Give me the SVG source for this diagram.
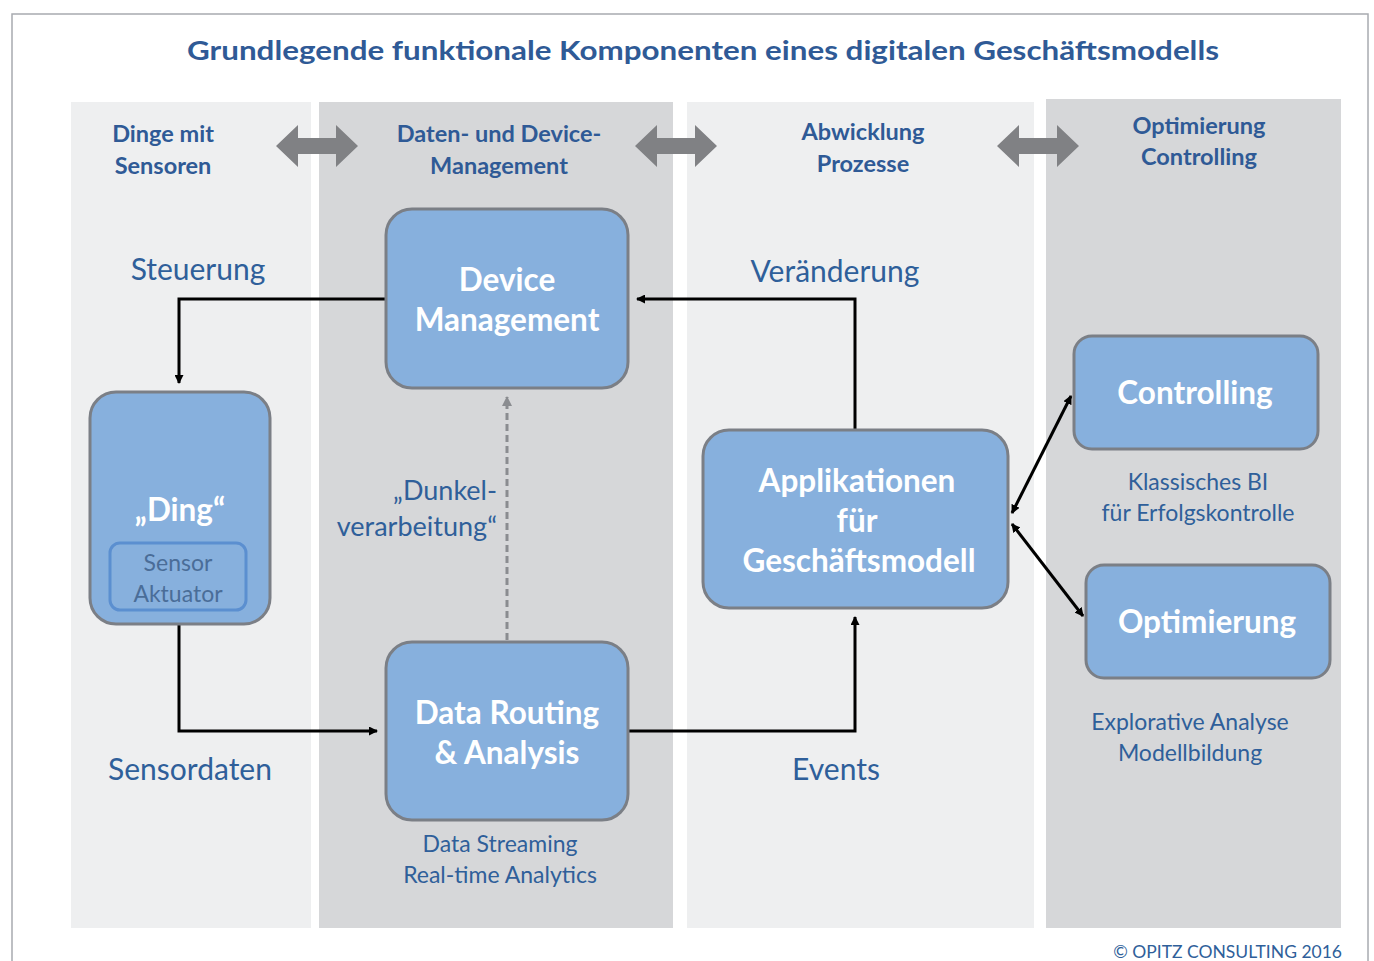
<svg xmlns="http://www.w3.org/2000/svg" width="1374" height="961" viewBox="0 0 1374 961">
<defs>
<style>
.hdr{font-family:Lato,"Open Sans",sans-serif;font-weight:bold;font-size:23.5px;fill:#2f5a96;text-anchor:middle}
.lbl{font-family:Lato,"Open Sans",sans-serif;font-size:30px;fill:#2f5f9a;text-anchor:middle}
.sub{font-family:Lato,"Open Sans",sans-serif;font-size:23px;fill:#2f5f9a;text-anchor:middle}
.dk{font-family:Lato,"Open Sans",sans-serif;font-size:27px;fill:#2f5f9a;text-anchor:end}
.nt{font-family:Lato,"Open Sans",sans-serif;font-weight:bold;font-size:31.5px;fill:#ffffff;text-anchor:middle}
.node{fill:#87b0dd;stroke:#7b7f86;stroke-width:3}
.con{fill:none;stroke:#000;stroke-width:3}
</style>
<marker id="ah" markerWidth="9" markerHeight="9" refX="8" refY="4.5" orient="auto-start-reverse" markerUnits="userSpaceOnUse">
<path d="M0,0 L9,4.5 L0,9 z" fill="#000"/>
</marker>
<marker id="ahg" markerWidth="10" markerHeight="10" refX="9" refY="5" orient="auto" markerUnits="userSpaceOnUse">
<path d="M0,0 L10,5 L0,10 z" fill="#8a8c90"/>
</marker>
<path id="darr" d="M0,0 L22,-21 L22,-8 L60,-8 L60,-21 L82,0 L60,21 L60,8 L22,8 L22,21 z" fill="#808184"/>
</defs>
<rect width="1374" height="961" fill="#ffffff"/>
<rect x="12" y="14" width="1356" height="960" fill="none" stroke="#a8abb0" stroke-width="1.5"/>
<text x="703" y="60" font-family="Lato,'Open Sans',sans-serif" font-weight="bold" font-size="27" fill="#2f5a96" text-anchor="middle" textLength="1032" lengthAdjust="spacingAndGlyphs">Grundlegende funktionale Komponenten eines digitalen Geschäftsmodells</text>

<g id="columns">
<rect x="71" y="102" width="240" height="826" fill="#eeeff0"/>
<rect x="319" y="102" width="354" height="826" fill="#d6d7d9"/>
<rect x="687" y="102" width="347" height="826" fill="#eeeff0"/>
<rect x="1046" y="99" width="295" height="829" fill="#d6d7d9"/>
</g>

<g id="headers">
<text class="hdr" x="163" y="142">Dinge mit</text>
<text class="hdr" x="163" y="174">Sensoren</text>
<text class="hdr" x="499" y="142">Daten- und Device-</text>
<text class="hdr" x="499" y="174">Management</text>
<text class="hdr" x="863" y="140">Abwicklung</text>
<text class="hdr" x="863" y="172">Prozesse</text>
<text class="hdr" x="1199" y="134">Optimierung</text>
<text class="hdr" x="1199" y="165">Controlling</text>
<use href="#darr" x="276" y="146"/>
<use href="#darr" x="635" y="146"/>
<use href="#darr" x="997" y="146"/>
</g>

<g id="connectors">
<path class="con" d="M386,299 H179 V383" marker-end="url(#ah)"/>
<path class="con" d="M179,624 V731 H377" marker-end="url(#ah)"/>
<path class="con" d="M628,731 H855 V617" marker-end="url(#ah)"/>
<path class="con" d="M855,430 V299 H637" marker-end="url(#ah)"/>
<path d="M507,640 V397" fill="none" stroke="#8a8c90" stroke-width="3" stroke-dasharray="7,4" marker-end="url(#ahg)"/>
<path class="con" d="M1012,513 L1071,396" marker-start="url(#ah)" marker-end="url(#ah)"/>
<path class="con" d="M1012,524 L1083,616" marker-start="url(#ah)" marker-end="url(#ah)"/>
</g>

<g id="labels">
<text class="lbl" x="198" y="280">Steuerung</text>
<text class="lbl" x="835" y="282">Veränderung</text>
<text class="lbl" x="190" y="780">Sensordaten</text>
<text class="lbl" x="836" y="780">Events</text>
<text class="dk" x="497" y="500">„Dunkel-</text>
<text class="dk" x="497" y="536">verarbeitung“</text>
<text class="sub" x="1198" y="490">Klassisches BI</text>
<text class="sub" x="1198" y="521">für Erfolgskontrolle</text>
<text class="sub" x="1190" y="730">Explorative Analyse</text>
<text class="sub" x="1190" y="761">Modellbildung</text>
<text class="sub" x="500" y="852">Data Streaming</text>
<text class="sub" x="500" y="883">Real-time Analytics</text>
<text class="sub" x="1342" y="958" style="text-anchor:end;font-size:17.5px">© OPITZ CONSULTING 2016</text>
</g>

<g id="device-management">
<rect class="node" x="386" y="209" width="242" height="179" rx="26"/>
<text class="nt" x="507" y="291">Device</text>
<text class="nt" x="507" y="331">Management</text>
</g>
<g id="ding">
<rect class="node" x="90" y="392" width="180" height="232" rx="26"/>
<text class="nt" x="180" y="521">„Ding“</text>
<rect x="110" y="543" width="136" height="67" rx="10" fill="#87b0dd" stroke="#5b8fd0" stroke-width="3"/>
<text class="sub" x="178" y="571" style="fill:#4a6d98">Sensor</text>
<text class="sub" x="178" y="602" style="fill:#4a6d98">Aktuator</text>
</g>
<g id="data-routing">
<rect class="node" x="386" y="642" width="242" height="178" rx="26"/>
<text class="nt" x="507" y="724">Data Routing</text>
<text class="nt" x="507" y="764">&amp; Analysis</text>
</g>
<g id="applikationen">
<rect class="node" x="703" y="430" width="305" height="178" rx="26"/>
<text class="nt" x="857" y="492">Applikationen</text>
<text class="nt" x="857" y="532">für</text>
<text class="nt" x="859" y="572">Geschäftsmodell</text>
</g>
<g id="controlling">
<rect class="node" x="1074" y="336" width="244" height="113" rx="18"/>
<text class="nt" x="1195" y="404">Controlling</text>
</g>
<g id="optimierung">
<rect class="node" x="1086" y="565" width="244" height="113" rx="18"/>
<text class="nt" x="1207" y="633">Optimierung</text>
</g>
</svg>
